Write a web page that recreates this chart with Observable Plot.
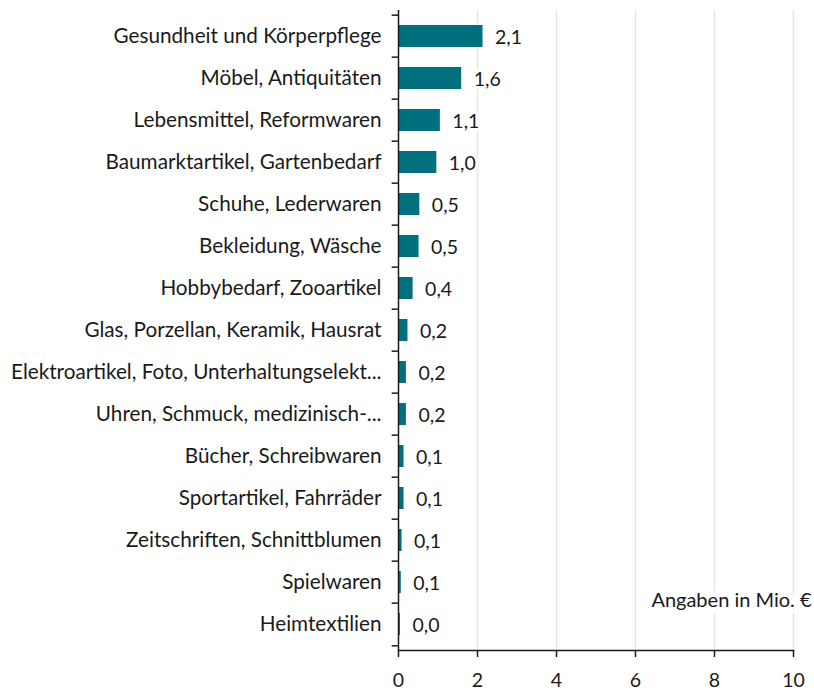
<!DOCTYPE html>
<html>
<head>
<meta charset="utf-8">
<script src="https://cdn.jsdelivr.net/npm/d3@7"></script>
<script src="https://cdn.jsdelivr.net/npm/@observablehq/plot@0.6"></script>
<style>
  html, body { margin: 0; padding: 0; background: #fff; }
</style>
</head>
<body>
<div id="chart"></div>
<script>
const categories = [
  "Gesundheit und Körperpflege",
  "Möbel, Antiquitäten",
  "Lebensmittel, Reformwaren",
  "Baumarktartikel, Gartenbedarf",
  "Schuhe, Lederwaren",
  "Bekleidung, Wäsche",
  "Hobbybedarf, Zooartikel",
  "Glas, Porzellan, Keramik, Hausrat",
  "Elektroartikel, Foto, Unterhaltungselekt...",
  "Uhren, Schmuck, medizinisch-...",
  "Bücher, Schreibwaren",
  "Sportartikel, Fahrräder",
  "Zeitschriften, Schnittblumen",
  "Spielwaren",
  "Heimtextilien"
];
const values = [2.14, 1.60, 1.06, 0.97, 0.54, 0.52, 0.37, 0.24, 0.20, 0.20, 0.14, 0.14, 0.09, 0.07, 0.049];
const xTicks = [0, 2, 4, 6, 8, 10];
const gridTicks = [2, 4, 6, 8, 10];
const note = "Angaben in Mio. €";

const data = categories.map((c, i) => ({category: c, value: values[i], label: values[i].toFixed(1).replace(".", ",")}));

const W = 814, H = 693, mt = 10, mb = 43, ml = 398, mr = 21;
const step = (H - mt - mb) / categories.length;

const chart = Plot.plot({
  width: W,
  height: H,
  marginTop: mt,
  marginBottom: mb,
  marginLeft: ml,
  marginRight: mr,
  style: {fontFamily: "Lato, 'Open Sans', sans-serif", color: "#1a1a1a", background: "#fff"},
  x: {domain: [0, 10]},
  y: {domain: categories, paddingInner: 0.48, paddingOuter: 0.24},
  marks: [
    Plot.ruleX(gridTicks, {stroke: "#e6e6da", strokeWidth: 1.5}),
    Plot.barX(data, {y: "category", x: "value", fill: "#00707e"}),
    Plot.text(data, {y: "category", x: "value", text: "label", textAnchor: "start", dx: 12, dy: 1, fontSize: 19.5, fill: "#1a1a1a", stroke: "#fff", strokeWidth: 6, paintOrder: "stroke"}),
    Plot.text([note], {frameAnchor: "bottom-right", text: d => d, textAnchor: "end", dx: 18, dy: -44, fontSize: 20, fill: "#1a1a1a", stroke: "#fff", strokeWidth: 12, paintOrder: "stroke"}),
    Plot.ruleX([0], {stroke: "#1a1a1a", strokeWidth: 1.5}),
    Plot.frame({anchor: "bottom", stroke: "#1a1a1a", strokeWidth: 1.5}),
    Plot.ruleY(categories, {y: d => d, dy: -step / 2, x1: -0.16, x2: 0, stroke: "#1a1a1a", strokeWidth: 1.5}),
    Plot.ruleY([categories[categories.length - 1]], {y: d => d, dy: step / 2, x1: -0.16, x2: 0, stroke: "#1a1a1a", strokeWidth: 1.5}),
    Plot.axisX({ticks: xTicks, tickSize: 7, tickPadding: 16, fontSize: 19.5, label: null, tickFormat: d => String(d), stroke: "#1a1a1a", strokeWidth: 1.5}),
    Plot.axisY({tickSize: 0, tickPadding: 17, fontSize: 20.7, label: null})
  ]
});
document.getElementById("chart").appendChild(chart);
</script>
</body>
</html>
